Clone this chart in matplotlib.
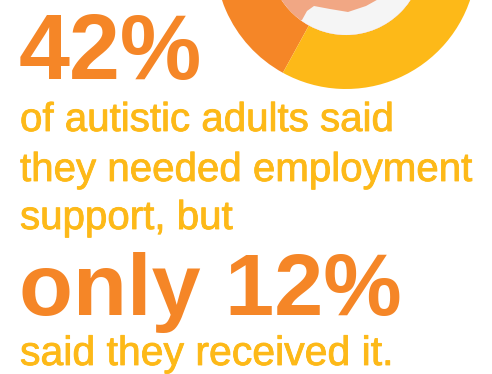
import matplotlib
matplotlib.use("Agg")
import matplotlib.pyplot as plt
import matplotlib.patheffects as pe
from matplotlib.patches import Circle, Polygon

# share of autistic adults: needed support vs the rest
donut_labels = ["needed employment support", "other"]
donut_values = [42, 58]

headline = "42%"
body_lines = ["of autistic adults said",
              "they needed employment",
              "support, but"]
second_headline = "only 12%"
closing_line = "said they received it."

ORANGE = "#F58627"
YELLOW = "#FDB918"
SALMON = "#F1A784"
GREY = "#F5F5F5"


def main():
    fig = plt.figure(figsize=(4.92, 3.74), dpi=100)
    fig.patch.set_facecolor("white")

    # donut sits in its own axes, partly above the top edge
    W, H = 492.0, 374.0
    cx, cy, r = 346.0, -42.0, 131.0
    dax = fig.add_axes([(cx - r) / W, (H - cy - r) / H, 2 * r / W, 2 * r / H])
    dax.pie(donut_values, colors=[ORANGE, YELLOW], startangle=90,
            counterclock=True, radius=1.0,
            wedgeprops=dict(width=54 / r, linewidth=0))
    dax.set_xlim(-1, 1)
    dax.set_ylim(-1, 1)
    dax.set_aspect("equal")
    dax.axis("off")

    # little face illustration inside the ring
    inner = 77 / r
    dax.add_patch(Circle((0, 0), inner, color=SALMON, lw=0))
    pts = [(290, 25), (302, 20), (307, 11), (314, 6), (330, 9), (348, 12),
           (366, 6), (384, -4), (420, -30), (440, 80), (270, 80)]
    shape = Polygon([((x - cx) / r, -(y - cy) / r) for x, y in pts],
                    closed=True, color=GREY, lw=0)
    dax.add_patch(shape)
    shape.set_clip_path(Circle((0, 0), inner, transform=dax.transData))

    # text block in pixel coordinates
    ax = fig.add_axes([0, 0, 1, 1])
    ax.set_xlim(0, W)
    ax.set_ylim(H, 0)
    ax.axis("off")

    bold = dict(family="Liberation Sans", weight="bold", color=ORANGE,
                va="baseline", ha="left")
    # thin same-colour stroke gives the body copy a bit more weight
    plain = dict(family="Liberation Sans", color=YELLOW,
                 va="baseline", ha="left",
                 path_effects=[pe.withStroke(linewidth=0.6, foreground=YELLOW)])

    ax.text(19, 79, headline, fontsize=66, **bold)
    for y, line in zip([131, 181, 229], body_lines):
        ax.text(20, y, line, fontsize=29, **plain)
    ax.text(19, 315, second_headline, fontsize=63.5, **bold)
    ax.text(20, 365, closing_line, fontsize=29.5, **plain)

    fig.savefig("out.png", dpi=100, facecolor="white")


if __name__ == "__main__":
    main()
